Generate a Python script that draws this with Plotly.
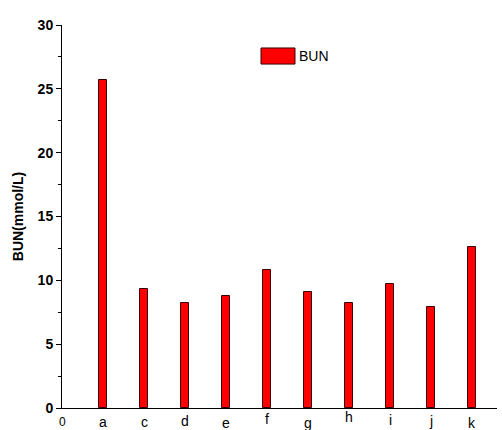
import plotly.graph_objects as go

# Groups and measured BUN values (mmol/L)
groups = ["a", "c", "d", "e", "f", "g", "h", "i", "j", "k"]
bun = [25.7, 9.3, 8.2, 8.8, 10.8, 9.1, 8.2, 9.7, 7.9, 12.6]

# Category order on the x axis (the origin label "0" sits at the first slot)
x_order = ["0"] + groups
# Vertical offsets (px) of the hand-placed group labels
label_shift = [-14, -14, -14, -13, -15, -11, -15, -9, -12, -13, -15]

fig = go.Figure()
fig.add_trace(go.Bar(
    x=groups, y=bun, name="BUN", width=0.2,
    marker=dict(color="#ff0000", line=dict(color="#3a0000", width=1)),
    showlegend=False,
))

font_family = "Liberation Sans, Arial, sans-serif"

annotations = []
for lab, dy in zip(x_order, label_shift):
    annotations.append(dict(
        x=lab, xref="x", y=0, yref="paper", yanchor="middle",
        yshift=dy, showarrow=False, text=lab,
        font=dict(family=font_family, size=14 if lab != "0" else 12, color="black"),
    ))

# Legend entry drawn as a swatch and text
annotations.append(dict(
    x=0.541, xref="paper", y=0.919, yref="paper", xanchor="left", yanchor="middle",
    showarrow=False, text="BUN", font=dict(family=font_family, size=14, color="black"),
))

shapes = [
    dict(type="rect", xref="paper", yref="paper", x0=0.4575, x1=0.5356, y0=0.898, y1=0.94,
         fillcolor="#ff0000", line=dict(color="#3a0000", width=1)),
    dict(type="line", xref="x", yref="y", x0=5.73, x1=5.73, ysizemode="pixel", yanchor=0,
         y0=0, y1=-4, line=dict(color="black", width=1)),
]

fig.update_layout(
    width=502, height=430,
    margin=dict(l=62, r=5, t=25, b=22),
    paper_bgcolor="white", plot_bgcolor="white",
    font=dict(family=font_family, color="black"),
    annotations=annotations, shapes=shapes,
    bargap=0,
)
fig.update_xaxes(
    type="category", categoryorder="array", categoryarray=x_order,
    range=[0, 10.6], showticklabels=False, ticks="",
    showline=True, linecolor="black", linewidth=1, showgrid=False, zeroline=False,
)
fig.update_yaxes(
    range=[0, 30], dtick=5, ticks="outside", ticklen=5, tickwidth=1, tickcolor="black",
    minor=dict(dtick=2.5, ticks="outside", ticklen=3, tickcolor="black", showgrid=False),
    showline=True, linecolor="black", linewidth=1, showgrid=False, zeroline=False,
    tickfont=dict(family=font_family, size=14, weight="bold"),
    title=dict(text="BUN(mmol/L)", font=dict(family=font_family, size=14, weight="bold"),
               standoff=10),
)

fig.write_html("out.html")
